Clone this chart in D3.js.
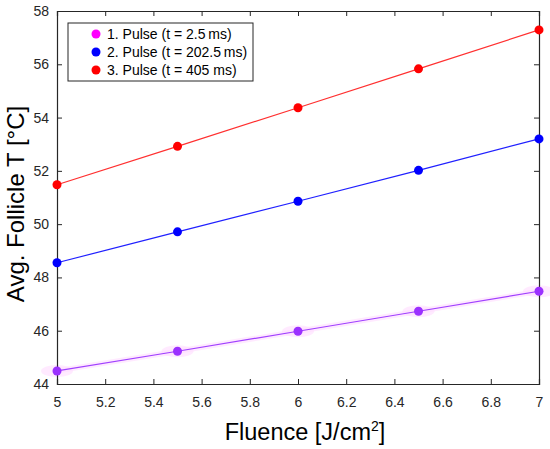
<!DOCTYPE html>
<html>
<head>
<meta charset="utf-8">
<script src="https://cdn.jsdelivr.net/npm/d3@7"></script>
<style>
  body { margin: 0; background: #fff; }
  svg { font-family: Arial, "Liberation Sans", sans-serif; }
  .tick text { font-size: 14px; fill: #262626; }
  .domain { stroke: #262626; }
  .tick line { stroke: #262626; }
</style>
</head>
<body>
<svg id="chart" width="550" height="449"></svg>
<script>
// fluence values (J/cm2)
var fluence = [5, 5.5, 6, 6.5, 7];
// average follicle temperature per pulse
var pulse1 = [44.49, 45.23, 45.98, 46.73, 47.48];
var pulse2 = [48.55, 49.71, 50.86, 52.02, 53.2];
var pulse3 = [51.48, 52.92, 54.37, 55.83, 57.29];
var seriesNames = ["1. Pulse (t = 2.5\u2009ms)", "2. Pulse (t = 202.5\u2009ms)", "3. Pulse (t = 405 ms)"];
var xTicks = [5, 5.2, 5.4, 5.6, 5.8, 6, 6.2, 6.4, 6.6, 6.8, 7];
var yTicks = [44, 46, 48, 50, 52, 54, 56, 58];

var mLeft = 57, mRight = 539, mTop = 11, mBottom = 384;

var svg = d3.select('#chart');

var x = d3.scaleLinear().domain([5, 7]).range([mLeft, mRight]);
var y = d3.scaleLinear().domain([44, 58]).range([mBottom, mTop]);

// pink band behind pulse 1
var band = d3.area()
    .x(function(d, i) { return x(fluence[i]); })
    .y0(function(d) { return y(d - 0.1); })
    .y1(function(d) { return y(d + 0.1); });
svg.append('path').attr('d', band(pulse1)).attr('fill', '#ffeaff');
svg.selectAll('ellipse.halo').data(pulse1).enter().append('ellipse')
    .attr('cx', function(d, i) { return x(fluence[i]); })
    .attr('cy', function(d) { return y(d); })
    .attr('rx', 16).attr('ry', 6)
    .attr('fill', '#ffdcff').attr('opacity', 0.6);

// axes with inward ticks, box on
var xAxis = d3.axisBottom(x).tickValues(xTicks).tickSize(-5).tickPadding(13)
    .tickFormat(function(d) { return d3.format('~g')(d); });
var yAxis = d3.axisLeft(y).tickValues(yTicks).tickSize(-5).tickPadding(8);
svg.append('g').attr('transform', 'translate(0,' + mBottom + ')').call(xAxis);
svg.append('g').attr('transform', 'translate(' + mLeft + ',0)').call(yAxis);
svg.append('g').attr('transform', 'translate(0,' + mTop + ')')
    .call(d3.axisTop(x).tickValues(xTicks).tickSize(-5).tickFormat(''));
svg.append('g').attr('transform', 'translate(' + mRight + ',0)')
    .call(d3.axisRight(y).tickValues(yTicks).tickSize(-5).tickFormat(''));
svg.selectAll('.domain').attr('stroke-width', 1.2);

var line = d3.line()
    .x(function(d, i) { return x(fluence[i]); })
    .y(function(d) { return y(d); });

var series = [
  { vals: pulse1, line: '#a040ff', dot: '#9b30ff' },
  { vals: pulse2, line: '#2020ff', dot: '#0000ff' },
  { vals: pulse3, line: '#ff3030', dot: '#ff0000' }
];

series.forEach(function(s) {
  svg.append('path').attr('d', line(s.vals))
      .attr('fill', 'none').attr('stroke', s.line).attr('stroke-width', 1.2);
  svg.selectAll(null).data(s.vals).enter().append('circle')
      .attr('cx', function(d, i) { return x(fluence[i]); })
      .attr('cy', function(d) { return y(d); })
      .attr('r', 4.5).attr('fill', s.dot);
});

// legend
var legColors = ['#ff00ff', '#0000ff', '#ff0000'];
svg.append('rect').attr('x', 68).attr('y', 23).attr('width', 185).attr('height', 58)
    .attr('fill', '#fff').attr('stroke', '#262626').attr('stroke-width', 1);
seriesNames.forEach(function(name, i) {
  var yy = 34 + i * 18;
  svg.append('circle').attr('cx', 96).attr('cy', yy).attr('r', 4.5).attr('fill', legColors[i]);
  svg.append('text').attr('x', 107).attr('y', yy + 5)
      .attr('font-size', 14).attr('fill', '#000').text(name);
});

// axis labels
svg.append('text').attr('x', 305).attr('y', 440)
    .attr('text-anchor', 'middle').attr('font-size', 23.5).attr('fill', '#000')
    .html('Fluence [J/cm<tspan dy="-9" font-size="14">2</tspan><tspan dy="9">]</tspan>');
svg.append('text').attr('transform', 'translate(24,204) rotate(-90)')
    .attr('text-anchor', 'middle').attr('font-size', 24).attr('fill', '#000')
    .text('Avg. Follicle T [\u00b0C]');
</script>
</body>
</html>
